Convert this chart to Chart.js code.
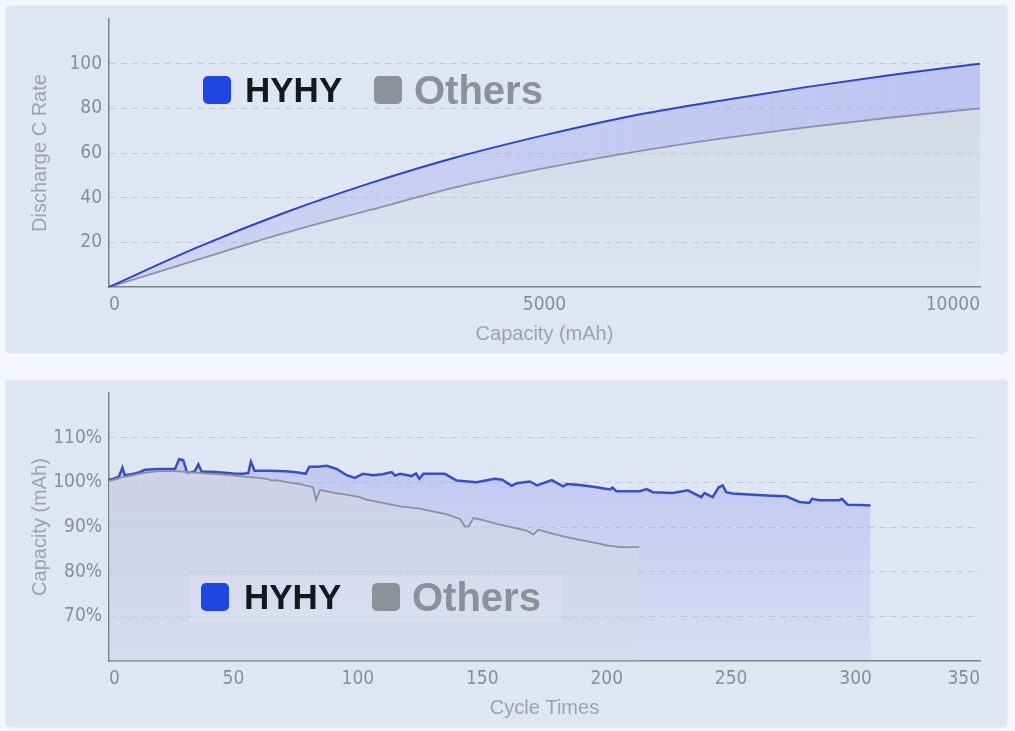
<!DOCTYPE html>
<html>
<head>
<meta charset="utf-8">
<script src="https://cdn.jsdelivr.net/npm/chart.js@4.4.1/dist/chart.umd.min.js"></script>
<style>
  html, body { margin: 0; padding: 0; }
  body {
    width: 1015px; height: 731px; position: relative; overflow: hidden;
    background: #f4f6fb;
    font-family: 'Liberation Sans', Arial, sans-serif;
  }
  .panel {
    position: absolute; left: 6px; width: 1001px; height: 347px;
    background: #e0e5f3; border-radius: 4px;
    box-shadow: 0 0 2px rgba(90, 100, 140, 0.18);
  }
  #panelTop { top: 6px; }
  #panelBottom { top: 380px; }
  .panel canvas { position: absolute; left: 0; top: 0; }
  .lg-box { position: absolute; width: 28px; height: 28px; border-radius: 5px; }
  .lg-text { position: absolute; font-weight: bold; line-height: 1; white-space: nowrap; }
  .hy { font-size: 35px; color: #16181d; }
  .ot { font-size: 40px; color: #8d9099; }
  .lg-back { position: absolute; background: rgba(232, 236, 247, 0.28); }
</style>
</head>
<body>

<div class="panel" id="panelTop">
  <canvas id="rateChart" width="1001" height="347"></canvas>
  <div class="lg-box" style="left:197px;top:70px;background:#1f45e3"></div>
  <div class="lg-text hy" style="left:239px;top:66px">HYHY</div>
  <div class="lg-box" style="left:368px;top:70px;background:#8e9199"></div>
  <div class="lg-text ot" style="left:408px;top:64px">Others</div>
</div>

<div class="panel" id="panelBottom">
  <canvas id="cycleChart" width="1001" height="347"></canvas>
  <div class="lg-back" style="left:184px;top:195px;width:372px;height:47px"></div>
  <div class="lg-box" style="left:195px;top:203px;background:#1f45e3"></div>
  <div class="lg-text hy" style="left:238px;top:199px">HYHY</div>
  <div class="lg-box" style="left:366px;top:203px;background:#8e9199"></div>
  <div class="lg-text ot" style="left:406px;top:197px">Others</div>
</div>

<script>
// Gráfico de cima: taxa de descarga x capacidade
const rateCapacity = [0, 1000, 2000, 3000, 4000, 5000, 6000, 7000, 8000, 9000, 10000];
const hyhyRate = [0, 17.5, 33, 46.5, 58.2, 68, 76.6, 83.3, 89.5, 95, 100];
const othersRate = [0, 12, 24, 34.5, 44.8, 53.2, 60.3, 66.3, 71.5, 76, 80];

// Gráfico de baixo: capacidade (%) x ciclos
const hyhyCycles = [
    0, 2, 4, 5.4, 6.3, 9, 12, 14.5, 20, 26.5, 28.2, 29.8, 31.5, 34.5, 35.9, 37.2, 43, 50, 54,
    56, 57, 58.5, 65, 71, 76, 79, 80.5, 84, 87.5, 91.5, 95.5, 98.8, 102, 106, 110, 113.6, 115,
    117, 121.6, 123.4, 124.7, 126.3, 135, 139.7, 147.7, 155, 158, 161.8, 163.8, 169.1, 172,
    177.9, 182.5, 184, 189.2, 196, 201.3, 202.3, 203.9, 213.2, 216.1, 218.5, 226.5, 232.6,
    238, 239.3, 242.6, 245, 246.6, 248, 250.6, 259, 266, 272, 277.4, 281.4, 282.5, 285.4,
    293.5, 294.5, 296.8, 302, 306
];
const hyhyCapacity = [
    100.6, 100.8, 101.3, 103.3, 101.6, 101.8, 102.2, 102.8, 103.0, 103.0, 105.2, 105.0, 102.0,
    102.5, 104.0, 102.4, 102.3, 102.0, 101.9, 102.1, 104.6, 102.6, 102.6, 102.5, 102.2, 101.9,
    103.5, 103.5, 103.7, 103.0, 101.6, 101.0, 101.9, 101.6, 101.8, 102.3, 101.5, 101.9, 101.4,
    102.0, 100.8, 101.9, 101.9, 100.4, 100.0, 100.8, 100.6, 99.2, 99.8, 100.2, 99.3, 100.5,
    99.1, 99.6, 99.4, 98.9, 98.4, 98.8, 98.0, 98.0, 98.5, 97.8, 97.6, 98.2, 96.7, 97.6, 96.7,
    98.9, 99.3, 97.8, 97.5, 97.2, 97.0, 96.9, 95.6, 95.4, 96.3, 96.0, 96.0, 96.3, 95.0, 94.9,
    94.8
];
const othersCycles = [
    0, 3, 5, 9, 14, 20, 27, 32, 38, 45, 50, 54, 60, 63.4, 65.4, 67, 72, 76.7, 82, 83.2, 84.8,
    90, 96, 100.8, 103.5, 110, 117, 125, 135.7, 141, 143, 144.6, 146.4, 150, 155.8, 162,
    167.8, 170.5, 172.5, 177, 182.5, 189.2, 196, 200, 205.3, 213
];
const othersCapacity = [
    100.3, 100.7, 101.1, 101.5, 102.1, 102.5, 102.5, 102.3, 102.0, 101.8, 101.5, 101.3, 101.0,
    100.8, 100.4, 100.5, 100.0, 99.6, 98.9, 96.0, 98.3, 97.7, 97.2, 96.7, 96.1, 95.4, 94.6,
    94.1, 92.8, 91.8, 90.1, 90.2, 92.0, 91.6, 90.7, 89.9, 89.2, 88.3, 89.4, 88.7, 87.9, 87.1,
    86.4, 85.9, 85.5, 85.5
];

const tickFont = { family: "'Liberation Sans Narrow', 'DejaVu Sans Condensed', sans-serif", size: 19 };
const titleFont = { family: "'Liberation Sans', Arial, sans-serif", size: 20 };
const tickColor = '#8a8d96';
const titleColor = '#9fa2ab';
const axisColor = '#7c7f88';

// gradiente vertical dentro da área do gráfico
function vGrad(context, rgb, a0, a1) {
    const chart = context.chart;
    const area = chart.chartArea;
    if (!area) return `rgba(${rgb},${a0})`;
    const g = chart.ctx.createLinearGradient(0, area.top, 0, area.bottom);
    g.addColorStop(0, `rgba(${rgb},${a0})`);
    g.addColorStop(1, `rgba(${rgb},${a1})`);
    return g;
}

// gradiente horizontal
function hGrad(context, rgb, a0, a1) {
    const chart = context.chart;
    const area = chart.chartArea;
    if (!area) return `rgba(${rgb},${a1})`;
    const g = chart.ctx.createLinearGradient(area.left, 0, area.right, 0);
    g.addColorStop(0, `rgba(${rgb},${a0})`);
    g.addColorStop(1, `rgba(${rgb},${a1})`);
    return g;
}

function buildScales(xMin, xMax, xStep, xTitle, yMin, yMax, yStep, yTitle, ySuffix) {
    return {
        x: {
            type: 'linear',
            min: xMin,
            max: xMax,
            afterFit: function(scale) {
                scale.height = 66;
                scale.paddingLeft = 0;
                scale.paddingRight = 0;
            },
            ticks: {
                stepSize: xStep,
                padding: 7,
                align: 'inner',
                color: tickColor,
                font: tickFont,
                maxRotation: 0,
                callback: function(value) { return String(value); }
            },
            grid: { display: false, drawTicks: false },
            border: { display: true, color: axisColor, width: 1.5 },
            title: {
                display: true,
                text: xTitle,
                color: titleColor,
                font: titleFont,
                padding: { top: 0, bottom: 7 }
            }
        },
        y: {
            min: yMin,
            max: yMax,
            afterFit: function(scale) {
                scale.width = 103;
                scale.paddingTop = 0;
                scale.paddingBottom = 0;
            },
            ticks: {
                stepSize: yStep,
                padding: 7,
                color: tickColor,
                font: tickFont,
                callback: function(value) {
                    // sem rótulo nem linha nas pontas
                    if (value === yMin || value === yMax) return null;
                    return value + ySuffix;
                }
            },
            grid: { color: 'rgba(172,178,200,0.55)', lineWidth: 1, drawTicks: false },
            border: { display: true, color: axisColor, width: 1.5, dash: [6, 5] },
            title: {
                display: true,
                text: yTitle,
                color: titleColor,
                font: titleFont,
                padding: { top: 22, bottom: 0 }
            }
        }
    };
}

const baseOptions = {
    responsive: false,
    animation: false,
    layout: { padding: { top: 13, right: 27, left: 0, bottom: 0 } },
    plugins: {
        legend: { display: false },
        tooltip: { enabled: false }
    },
    elements: { point: { radius: 0 } }
};

// Gráfico de taxa de descarga
new Chart(document.getElementById('rateChart').getContext('2d'), {
    type: 'line',
    data: {
        datasets: [{
            label: 'HYHY',
            data: rateCapacity.map((c, i) => ({ x: c, y: hyhyRate[i] })),
            borderColor: '#2f44c4',
            borderWidth: 2,
            cubicInterpolationMode: 'monotone',
            fill: '+1',
            backgroundColor: ctx => hGrad(ctx, '140,150,238', 0.2, 0.42)
        }, {
            label: 'Others',
            data: rateCapacity.map((c, i) => ({ x: c, y: othersRate[i] })),
            borderColor: '#8e9099',
            borderWidth: 1.8,
            cubicInterpolationMode: 'monotone',
            fill: 'origin',
            backgroundColor: ctx => vGrad(ctx, '185,188,204', 0.45, 0.02)
        }]
    },
    options: Object.assign({}, baseOptions, {
        scales: buildScales(0, 10000, 5000, 'Capacity (mAh)', 0, 120, 20, 'Discharge C Rate', '')
    })
});

// Gráfico de ciclos
new Chart(document.getElementById('cycleChart').getContext('2d'), {
    type: 'line',
    data: {
        datasets: [{
            label: 'HYHY',
            order: 1,
            data: hyhyCycles.map((c, i) => ({ x: c, y: hyhyCapacity[i] })),
            borderColor: '#3650c4',
            borderWidth: 2.5,
            tension: 0,
            fill: 'origin',
            backgroundColor: ctx => vGrad(ctx, '140,150,238', 0.45, 0.1)
        }, {
            label: 'Others',
            order: 0,
            data: othersCycles.map((c, i) => ({ x: c, y: othersCapacity[i] })),
            borderColor: '#8e9099',
            borderWidth: 1.8,
            tension: 0,
            fill: 'origin',
            backgroundColor: ctx => vGrad(ctx, '214,215,224', 0.8, 0.25)
        }]
    },
    options: Object.assign({}, baseOptions, {
        scales: buildScales(0, 350, 50, 'Cycle Times', 60, 120, 10, 'Capacity (mAh)', '%')
    })
});
</script>
</body>
</html>
